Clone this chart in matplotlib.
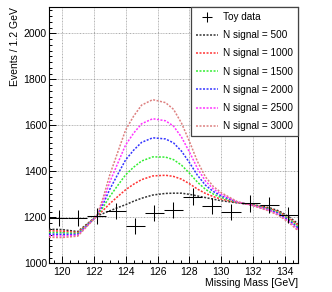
#!/usr/bin/env python3
from matplotlib import pyplot as plt
from matplotlib.ticker import MultipleLocator
import numpy as np

outputImage = "out.png"

# toy data (bin width 1.2 GeV)
data_mass = [119.8, 121.0, 122.2, 123.4, 124.6, 125.8, 127.0, 128.2, 129.4, 130.6, 131.8, 133.0, 134.2]
data_events = [1196, 1198, 1205, 1229, 1162, 1218, 1230, 1290, 1250, 1223, 1261, 1253, 1211]
data_err = [35, 35, 35, 35, 34, 35, 35, 36, 35, 35, 36, 35, 35]
bin_half = 0.6

# model curves
curve_mass = [119.2, 120, 121, 121.6, 122.2, 122.6, 123, 123.5, 124, 124.5, 125, 125.7, 126.5, 127,
              127.5, 128, 128.5, 129, 129.5, 130, 131, 131.5, 132, 133, 133.6, 134.2, 134.8]
sig500 = [1148, 1147, 1138, 1172, 1206, 1217, 1228, 1242, 1255, 1270, 1283, 1297, 1304, 1305,
          1305, 1300, 1293, 1286, 1279, 1272, 1263, 1259, 1255, 1242, 1228, 1204, 1172]
sig1000 = [1141, 1140, 1134, 1170, 1206, 1231, 1259, 1290, 1320, 1344, 1364, 1380, 1383, 1378,
           1366, 1346, 1323, 1304, 1290, 1279, 1264, 1259, 1254, 1239, 1224, 1199, 1166]
sig1500 = [1134, 1133, 1130, 1168, 1206, 1245, 1290, 1338, 1385, 1418, 1445, 1463, 1462, 1451,
           1427, 1392, 1353, 1322, 1301, 1286, 1265, 1259, 1253, 1236, 1220, 1194, 1160]
sig2000 = [1127, 1126, 1126, 1166, 1206, 1259, 1321, 1386, 1450, 1492, 1526, 1546, 1541, 1524,
           1488, 1438, 1383, 1340, 1312, 1293, 1266, 1259, 1252, 1233, 1216, 1189, 1154]
sig2500 = [1120, 1119, 1122, 1164, 1206, 1273, 1352, 1434, 1515, 1566, 1607, 1629, 1620, 1597,
           1549, 1484, 1413, 1358, 1323, 1300, 1267, 1259, 1251, 1230, 1212, 1184, 1148]
sig3000 = [1113, 1112, 1118, 1162, 1206, 1287, 1383, 1482, 1580, 1640, 1688, 1712, 1699, 1670,
           1610, 1530, 1443, 1376, 1334, 1307, 1268, 1259, 1250, 1227, 1208, 1179, 1142]

signals = [500, 1000, 1500, 2000, 2500, 3000]
curves = [sig500, sig1000, sig1500, sig2000, sig2500, sig3000]
colors = ["#333333", "#ff3333", "#33ee33", "#3333ff", "#ff33ff", "#dd8080"]

plt.rcParams['font.family'] = ['Liberation Sans', 'DejaVu Sans']

fig = plt.figure(figsize=(3.32, 2.92), dpi=100)
ax = fig.add_axes([49/332, 1 - 263.3/292, 249/332, 256.3/292])

handles = []
eb = ax.errorbar(data_mass, data_events, xerr=bin_half, yerr=data_err, fmt='none',
                 ecolor='black', elinewidth=0.75, capsize=0, zorder=4)
handles.append((eb, "Toy data"))
for n, vals, c in zip(signals, curves, colors):
    ln, = ax.plot(curve_mass, vals, color=c, linestyle=(0, (1.3, 1.0)), lw=1.1, zorder=3)
    handles.append((ln, "N signal = %d" % n))

ax.set_xlim(119.2, 134.8)
ax.set_ylim(1000, 2115)
ax.xaxis.set_major_locator(MultipleLocator(2))
ax.xaxis.set_minor_locator(MultipleLocator(0.5))
ax.yaxis.set_major_locator(MultipleLocator(200))
ax.yaxis.set_minor_locator(MultipleLocator(25))
ax.tick_params(which='both', direction='in', top=False, right=False, labelsize=7.5, width=0.7)
ax.tick_params(which='major', length=5)
ax.tick_params(which='minor', length=2.5)
ax.tick_params(axis='y', pad=1.5)
ax.tick_params(axis='x', pad=3)
ax.grid(True, which='major', color='#888888', linestyle=(0, (1.5, 1, 0.5, 1)), lw=0.5)
ax.set_axisbelow(True)
for s in ax.spines.values():
    s.set_linewidth(0.8)

fig.text(15/332, 1 - 7/292, "Events / 1.2 GeV", rotation=90, ha='center', va='top', fontsize=7.5)
fig.text(298/332, 1 - 283/292, "Missing Mass [GeV]", ha='right', va='center', fontsize=7.5)

leg = ax.legend([h for h, l in handles], [l for h, l in handles],
                loc='upper right', bbox_to_anchor=(1.0, 1.0), borderaxespad=0,
                fontsize=7.2, frameon=True, fancybox=False, framealpha=1,
                edgecolor='#444444', handlelength=2.2, handletextpad=0.5,
                labelspacing=0.82, borderpad=0.5)
leg.get_frame().set_linewidth(0.9)
leg.set_zorder(10)

fig.savefig(outputImage, format='png', dpi=100)
plt.close()
